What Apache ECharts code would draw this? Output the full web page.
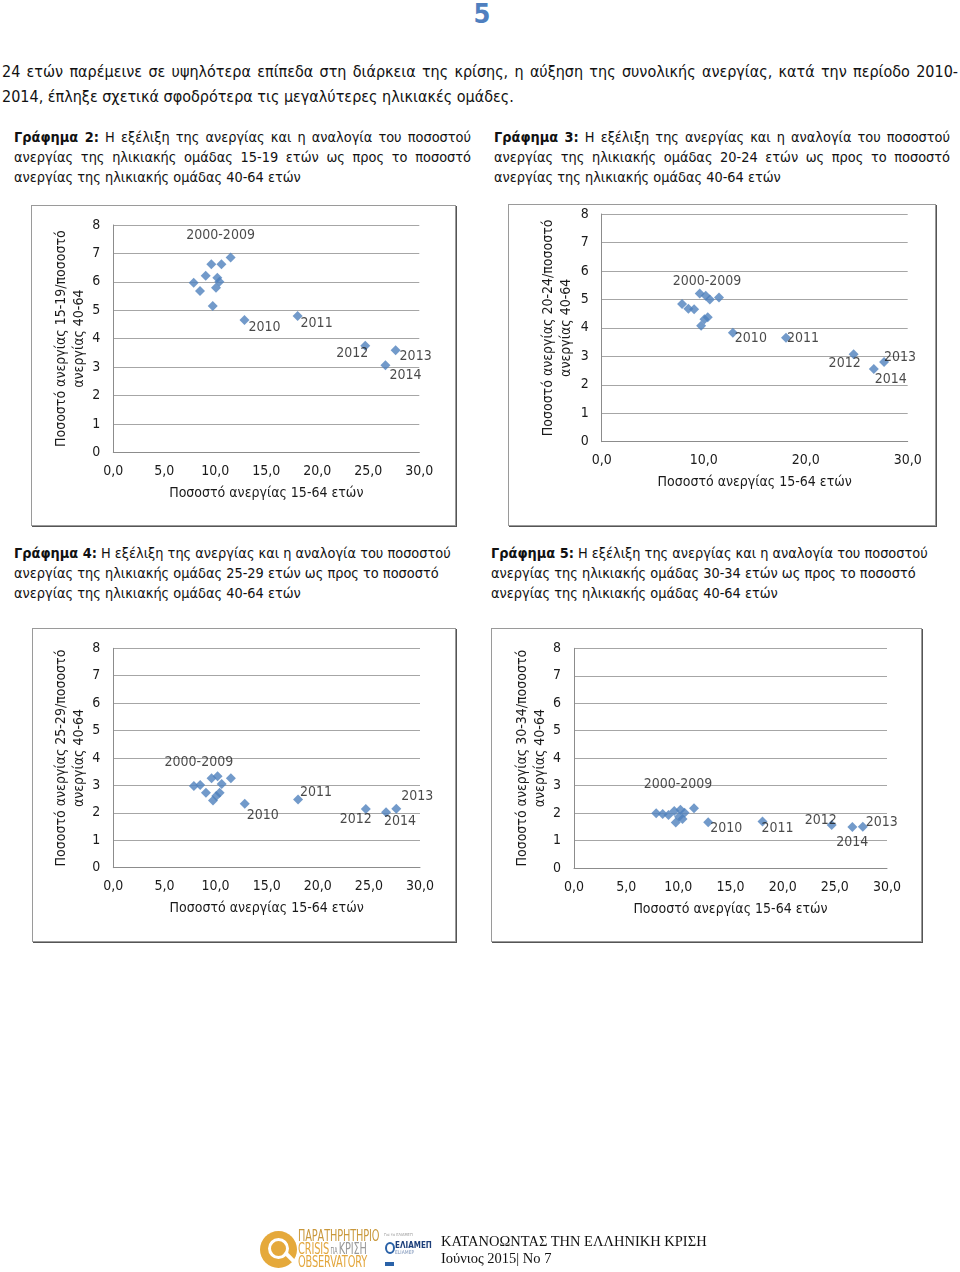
<!DOCTYPE html>
<html>
<head>
<meta charset="utf-8">
<script src="https://cdn.jsdelivr.net/npm/echarts@6/dist/echarts.min.js"></script>
<style>
  html, body { margin:0; padding:0; background:#fff; }
  body { width:960px; height:1272px; position:relative; overflow:hidden;
         font-family:"Liberation Sans Narrow","DejaVu Sans Condensed","Open Sans",sans-serif; color:#111; }
  .abs { position:absolute; }
  .line { position:absolute; white-space:nowrap; font-size:16px; line-height:20px; }
  .just { position:absolute; white-space:normal; text-align:justify; text-align-last:justify; overflow:hidden; height:20px; line-height:20px; }
  .cap { font-size:14.4px; }
  .box { position:absolute; border:1px solid #9a9a9a; box-shadow:1px 1px 0 #555; background:#fff; }
  #chart { position:absolute; left:0; top:0; width:960px; height:1272px; }
  .logo { position:absolute; white-space:nowrap; transform:scaleX(0.66); transform-origin:left center; letter-spacing:-0.2px; }
</style>
</head>
<body>
<div class="abs" style="left:0;top:0;width:960px;text-align:center;font-size:27px;font-weight:bold;color:#4f7fbf;line-height:28px;padding-left:2px;">5</div>

<div class="just" style="left:2px;top:62px;width:956px;font-size:16px;">24 ετών παρέμεινε σε υψηλότερα επίπεδα στη διάρκεια της κρίσης, η αύξηση της συνολικής ανεργίας, κατά την περίοδο 2010-</div>
<div class="line" style="left:2px;top:87px;">2014, έπληξε σχετικά σφοδρότερα τις μεγαλύτερες ηλικιακές ομάδες.</div>

<div class="just cap" style="left:14px;top:127px;width:457px;"><b>Γράφημα 2:</b> Η εξέλιξη της ανεργίας και η αναλογία του ποσοστού</div>
<div class="just cap" style="left:14px;top:147px;width:457px;">ανεργίας της ηλικιακής ομάδας 15-19 ετών ως προς το ποσοστό</div>
<div class="line cap" style="left:14px;top:167px;">ανεργίας της ηλικιακής ομάδας 40-64 ετών</div>

<div class="just cap" style="left:494px;top:127px;width:456px;"><b>Γράφημα 3:</b> Η εξέλιξη της ανεργίας και η αναλογία του ποσοστού</div>
<div class="just cap" style="left:494px;top:147px;width:456px;">ανεργίας της ηλικιακής ομάδας 20-24 ετών ως προς το ποσοστό</div>
<div class="line cap" style="left:494px;top:167px;">ανεργίας της ηλικιακής ομάδας 40-64 ετών</div>

<div class="line cap" style="left:14px;top:543px;"><b>Γράφημα 4:</b> Η εξέλιξη της ανεργίας και η αναλογία του ποσοστού</div>
<div class="line cap" style="left:14px;top:563px;">ανεργίας της ηλικιακής ομάδας 25-29 ετών ως προς το ποσοστό</div>
<div class="line cap" style="left:14px;top:583px;">ανεργίας της ηλικιακής ομάδας 40-64 ετών</div>

<div class="line cap" style="left:491px;top:543px;"><b>Γράφημα 5:</b> Η εξέλιξη της ανεργίας και η αναλογία του ποσοστού</div>
<div class="line cap" style="left:491px;top:563px;">ανεργίας της ηλικιακής ομάδας 30-34 ετών ως προς το ποσοστό</div>
<div class="line cap" style="left:491px;top:583px;">ανεργίας της ηλικιακής ομάδας 40-64 ετών</div>

<div class="box" style="left:31px;top:205px;width:423px;height:319px;"></div>
<div class="box" style="left:508px;top:204px;width:426px;height:320px;"></div>
<div class="box" style="left:32px;top:628px;width:422px;height:312px;"></div>
<div class="box" style="left:491px;top:628px;width:429px;height:312px;"></div>

<div id="chart"></div>

<!-- footer -->
<div class="abs" style="left:260px;top:1231px;width:37px;height:37px;border-radius:50%;background:#e5a93b;"></div>
<div class="abs" style="left:268px;top:1238px;width:15px;height:15px;border-radius:50%;border:3px solid #fff;"></div>
<div class="abs" style="left:283px;top:1255px;width:13px;height:4px;background:#fff;transform:rotate(45deg);"></div>
<div class="logo" style="left:298px;top:1229px;font-size:16.5px;line-height:14px;color:#c9983c;">ΠΑΡΑΤΗΡΗΤΗΡΙΟ</div>
<div class="logo" style="left:298px;top:1242px;font-size:16.5px;line-height:14px;color:#e3a63c;">CRISIS<span style="font-size:8px;color:#888;"> ΓΙΑ </span><span style="color:#9a9a9a;">ΚΡΙΣΗ</span></div>
<div class="logo" style="left:298px;top:1255px;font-size:16.5px;line-height:14px;color:#e3a63c;">OBSERVATORY</div>
<div class="abs" style="left:384px;top:1232px;font-size:4px;color:#999;white-space:nowrap;">Για το ΕΛΙΑΜΕΠ</div>
<div class="abs" style="left:385px;top:1242px;width:6px;height:8px;border:2px solid #2a62a8;border-radius:50%;"></div>
<div class="abs" style="left:395px;top:1242px;font-size:8px;font-weight:bold;line-height:8px;color:#1d3f7a;white-space:nowrap;">ΕΛΙΑΜΕΠ</div>
<div class="abs" style="left:395px;top:1250px;font-size:5px;line-height:5px;color:#7b93b8;white-space:nowrap;">ELIAMEP</div>
<div class="abs" style="left:385px;top:1262px;width:9px;height:4px;background:#2a62a8;"></div>

<div class="abs" style="left:441px;top:1232px;font-family:'Liberation Serif','DejaVu Serif',serif;font-size:14.5px;line-height:18px;white-space:nowrap;color:#111;">ΚΑΤΑΝΟΩΝΤΑΣ ΤΗΝ ΕΛΛΗΝΙΚΗ ΚΡΙΣΗ</div>
<div class="abs" style="left:441px;top:1249px;font-family:'Liberation Serif','DejaVu Serif',serif;font-size:14.5px;line-height:18px;white-space:nowrap;color:#111;">Ιούνιος 2015| Νο 7</div>

<script>
// ---- data ----
const years = ['2000','2001','2002','2003','2004','2005','2006','2007','2008','2009','2010','2011','2012','2013','2014'];
const totalRate15_64 = [11.5, 10.6, 10.2, 9.75, 10.4, 10.07, 9.06, 8.5, 7.88, 9.61, 12.86, 18.07, 24.7, 27.68, 26.68];
const ratio15_19 = [6.86, 6.62, 6.14, 5.15, 6.0, 5.79, 6.21, 5.68, 5.97, 6.62, 4.66, 4.80, 3.75, 3.59, 3.06];
const ratio20_24 = [5.07, 5.0, 5.13, 4.07, 4.37, 4.30, 4.65, 4.67, 4.84, 5.21, 3.83, 3.65, 3.07, 2.80, 2.55];
const ratio25_29 = [3.26, 3.05, 3.33, 2.45, 2.73, 2.61, 2.73, 3.02, 2.98, 3.26, 2.33, 2.49, 2.14, 2.15, 2.02];
const ratio30_34 = [2.18, 2.01, 2.12, 1.66, 1.78, 1.87, 1.93, 1.97, 1.99, 2.08, 1.67, 1.69, 1.57, 1.50, 1.49];
const pointLabels = {'2000':'2000-2009','2010':'2010','2011':'2011','2012':'2012','2013':'2013','2014':'2014'};
const xTitle = 'Ποσοστό ανεργίας 15-64 ετών';
const yTitles = [
  'Ποσοστό ανεργίας 15-19/ποσοστό\nανεργίας 40-64',
  'Ποσοστό ανεργίας 20-24/ποσοστό\nανεργίας 40-64',
  'Ποσοστό ανεργίας 25-29/ποσοστό\nανεργίας 40-64',
  'Ποσοστό ανεργίας 30-34/ποσοστό\nανεργίας 40-64'
];
const ratios = [ratio15_19, ratio20_24, ratio25_29, ratio30_34];

// ---- layout / style ----
const grids = [
  {left:113.3, top:225, width:306, height:227.3, xInterval:5, yGap:24},
  {left:601.7, top:214, width:306, height:227.7, xInterval:10, yGap:26},
  {left:113.3, top:648.3, width:306.7, height:219.4, xInterval:5, yGap:24},
  {left:574, top:648.3, width:313, height:219.7, xInterval:5, yGap:24}
];
const labelOffsets = [
  {'2000':[-10,-22],'2010':[20,7],'2011':[19,7],'2012':[-13,8],'2013':[20,6],'2014':[20,10]},
  {'2000':[-12,-16],'2010':[18,6],'2011':[17,1],'2012':[-9,9],'2013':[16,-5],'2014':[17,10]},
  {'2000':[-32,-16],'2010':[18,12],'2011':[18,-7],'2012':[-10,10],'2013':[21,-12],'2014':[14,9]},
  {'2000':[-16,-24],'2010':[18,6],'2011':[15,7],'2012':[-11,-5],'2013':[19,-4],'2014':[0,15]}
];
const FONT = '"Liberation Sans Narrow","DejaVu Sans Condensed","Open Sans",sans-serif';
const txt = '#1a1a1a';
const FS = 14;

const option = {
  animation:false,
  textStyle:{fontFamily:FONT},
  grid: grids.map(g => ({left:g.left, top:g.top, width:g.width, height:g.height})),
  xAxis: grids.map((g,i) => ({
    type:'value', gridIndex:i, min:0, max:30, interval:g.xInterval,
    name:xTitle, nameLocation:'middle', nameGap:34,
    nameTextStyle:{fontSize:FS, color:txt, fontFamily:FONT},
    axisLine:{show:true, lineStyle:{color:'#8c8c8c'}},
    axisTick:{show:false}, splitLine:{show:false},
    axisLabel:{fontSize:FS, color:txt, margin:12, fontFamily:FONT,
      formatter:v => v.toFixed(1).replace('.',',')}
  })),
  yAxis: grids.map((g,i) => ({
    type:'value', gridIndex:i, min:0, max:8, interval:1,
    name:yTitles[i], nameLocation:'middle', nameGap:g.yGap, nameRotate:90,
    nameTextStyle:{fontSize:FS, color:txt, lineHeight:18, align:'center', fontFamily:FONT},
    axisLine:{show:true, lineStyle:{color:'#8c8c8c'}},
    axisTick:{show:false},
    splitLine:{show:true, lineStyle:{color:'#a6a6a6', width:1}},
    axisLabel:{fontSize:FS, color:txt, margin:13, fontFamily:FONT}
  })),
  series: ratios.map((r,i) => ({
    type:'scatter', xAxisIndex:i, yAxisIndex:i,
    symbol:'diamond', symbolSize:10,
    itemStyle:{color:'#4f81bd'},
    data: years.map((y,k) => {
      const item = {value:[totalRate15_64[k], r[k]]};
      if (pointLabels[y]) {
        item.label = {show:true, position:'inside', formatter:pointLabels[y],
          offset:labelOffsets[i][y], fontSize:FS, color:txt, fontFamily:FONT};
      }
      return item;
    })
  }))
};
const chart = echarts.init(document.getElementById('chart'), null, {renderer:'canvas'});
chart.setOption(option);
</script>
</body>
</html>
